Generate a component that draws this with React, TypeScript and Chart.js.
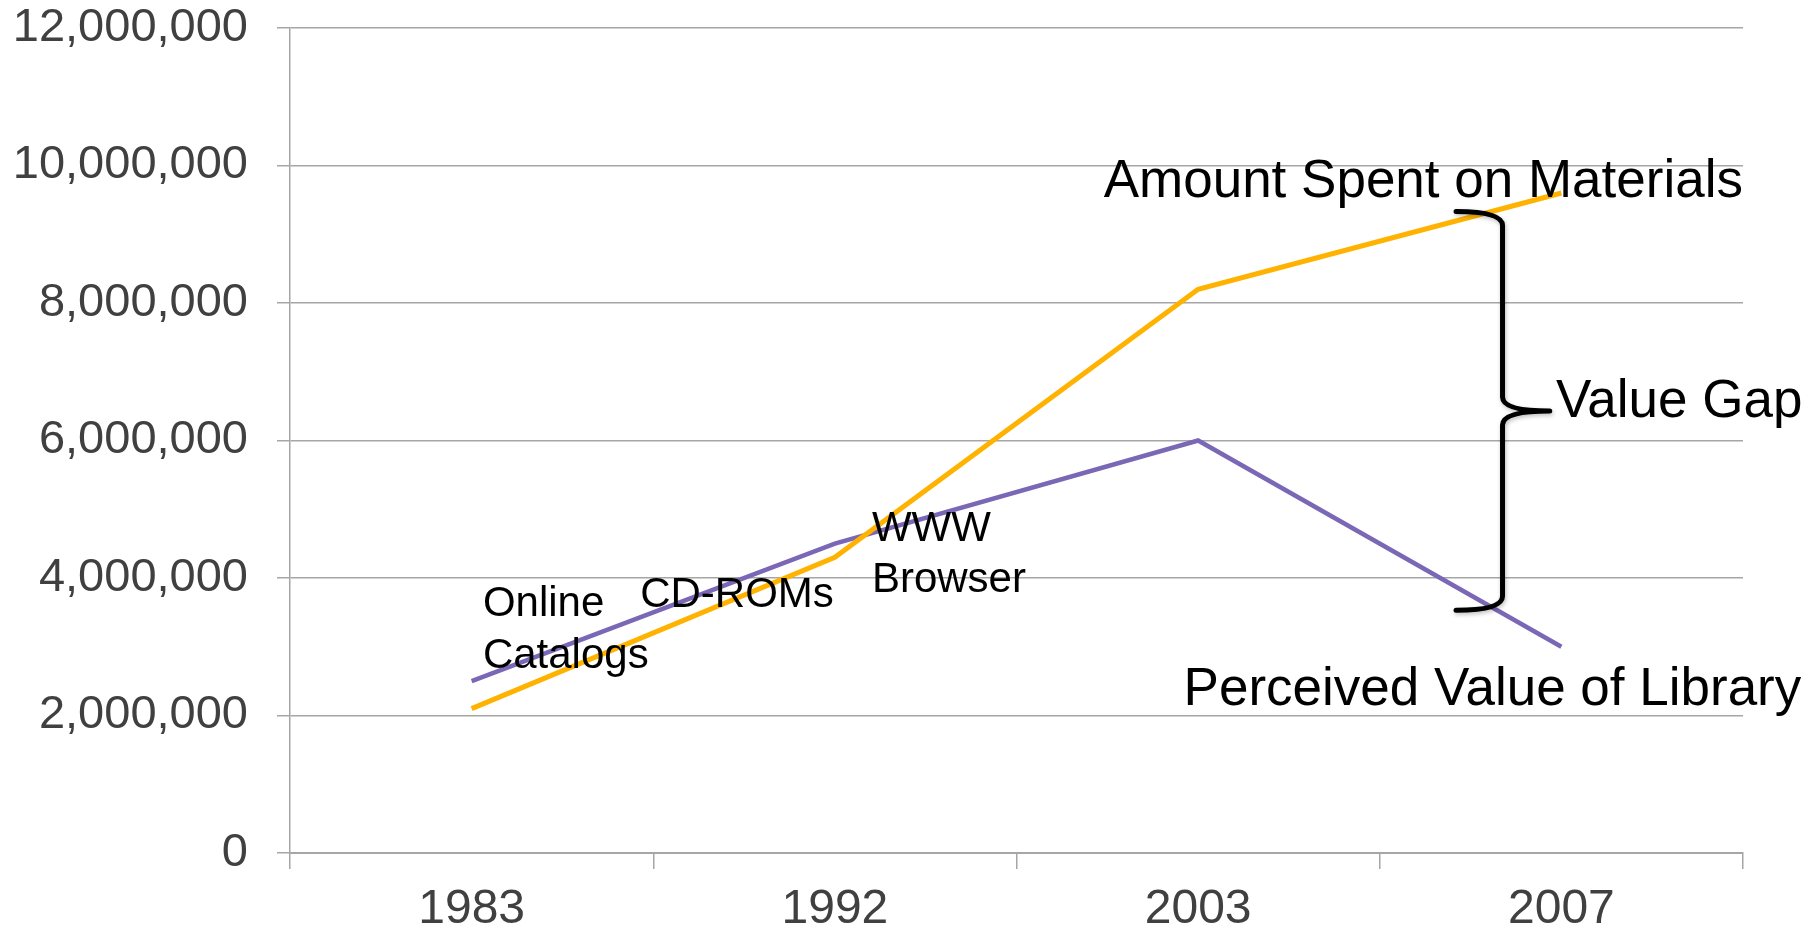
import React, { useEffect, useRef } from "react";
import { Chart, registerables } from "chart.js";

Chart.register(...registerables);

const years = ["1983", "1992", "2003", "2007"];
const amountSpent = [2100000, 4300000, 8200000, 9600000];
const perceivedValue = [2500000, 4500000, 6000000, 3000000];
const yTicks = [0, 2000000, 4000000, 6000000, 8000000, 10000000, 12000000];

// annotation texts: text, category index position, value at text middle, size
const labelTexts = ["Amount Spent on Materials", "Value Gap", "Perceived Value of Library", "Online", "Catalogs", "CD-ROMs", "WWW", "Browser"];
const labelIdx = [1.74, 2.985, 1.96, 0.031, 0.031, 0.464, 1.102, 1.102];
const labelVal = [9750000, 6550000, 2360000, 3620000, 2860000, 3740000, 4700000, 3970000];
const labelSize = [53, 53, 53, 42, 42, 42, 42, 42];

// brace: x index of hooks, stem, tip; values of top, middle, bottom
const braceIdx = [2.71, 2.838, 2.968];
const braceVal = [9330000, 6430000, 3530000];

const FONT = "'Liberation Sans', Arial, sans-serif";

function idxToPx(xs: any, i: number) {
  const p0 = xs.getPixelForValue(0);
  const p1 = xs.getPixelForValue(1);
  return p0 + (p1 - p0) * i;
}

const annotPlugin = {
  id: "annot",
  afterDatasetsDraw(chart: any) {
    const ctx = chart.ctx;
    const xs = chart.scales.x;
    const ys = chart.scales.y;
    ctx.save();
    ctx.fillStyle = "#000";
    ctx.textAlign = "left";
    ctx.textBaseline = "middle";
    labelTexts.forEach((t, k) => {
      ctx.font = `${labelSize[k]}px ${FONT}`;
      ctx.fillText(t, idxToPx(xs, labelIdx[k]), ys.getPixelForValue(labelVal[k]));
    });
    const xh = idxToPx(xs, braceIdx[0]);
    const xv = idxToPx(xs, braceIdx[1]);
    const xt = idxToPx(xs, braceIdx[2]);
    const yT = ys.getPixelForValue(braceVal[0]);
    const yM = ys.getPixelForValue(braceVal[1]);
    const yB = ys.getPixelForValue(braceVal[2]);
    const r = 14;
    ctx.strokeStyle = "#000";
    ctx.lineWidth = 5;
    ctx.lineCap = "round";
    ctx.lineJoin = "round";
    ctx.shadowColor = "rgba(0,0,0,0.25)";
    ctx.shadowBlur = 4;
    ctx.shadowOffsetX = 1;
    ctx.shadowOffsetY = 2;
    ctx.beginPath();
    ctx.moveTo(xh, yT);
    ctx.quadraticCurveTo(xv, yT, xv, yT + r);
    ctx.lineTo(xv, yM - r);
    ctx.quadraticCurveTo(xv, yM, xt, yM);
    ctx.moveTo(xt, yM);
    ctx.quadraticCurveTo(xv, yM, xv, yM + r);
    ctx.lineTo(xv, yB - r);
    ctx.quadraticCurveTo(xv, yB, xh, yB);
    ctx.stroke();
    ctx.restore();
  },
};

export default function App() {
  const ref = useRef<HTMLCanvasElement>(null);
  useEffect(() => {
    document.body.style.margin = "0";
    const chart = new Chart(ref.current!, {
      type: "line",
      data: {
        labels: years,
        datasets: [
          {
            label: "Amount Spent on Materials",
            data: amountSpent,
            borderColor: "#FFB300",
            borderWidth: 5,
            pointRadius: 0,
            tension: 0,
          },
          {
            label: "Perceived Value of Library",
            data: perceivedValue,
            borderColor: "#7A67B6",
            borderWidth: 4.5,
            pointRadius: 0,
            tension: 0,
          },
        ],
      },
      options: {
        animation: false,
        responsive: false,
        events: [],
        layout: { padding: { left: 0, right: 72, top: 28, bottom: 0 } },
        plugins: { legend: { display: false }, tooltip: { enabled: false } },
        scales: {
          x: {
            type: "category",
            offset: true,
            afterFit(s: any) {
              s.height = 93;
              s.paddingLeft = 0;
              s.paddingRight = 0;
            },
            grid: {
              offset: true,
              drawOnChartArea: false,
              drawTicks: true,
              tickLength: 16,
              color: "#a6a6a6",
              lineWidth: 1.5,
            },
            border: { display: true, color: "#a6a6a6", width: 2 },
            ticks: {
              color: "#404040",
              font: { family: FONT, size: 48 },
              padding: 12,
              maxRotation: 0,
              autoSkip: false,
            },
          },
          y: {
            min: 0,
            max: 12000000,
            afterFit(s: any) {
              s.width = 290;
              s.paddingTop = 0;
              s.paddingBottom = 0;
            },
            afterBuildTicks(s: any) {
              s.ticks = yTicks.map((v) => ({ value: v }));
            },
            grid: {
              color: "#a6a6a6",
              lineWidth: 1.5,
              tickLength: 13,
            },
            border: { display: true, color: "#a6a6a6", width: 1.5 },
            ticks: {
              color: "#404040",
              font: { family: FONT, size: 47 },
              padding: 29,
              callback: (v: any) => Number(v).toLocaleString("en-US"),
            },
          },
        },
      },
      plugins: [annotPlugin],
    });
    return () => chart.destroy();
  }, []);
  return (
    <div style={{ width: 1815, height: 946 }}>
      <canvas ref={ref} width={1815} height={946} style={{ display: "block" }} />
    </div>
  );
}
